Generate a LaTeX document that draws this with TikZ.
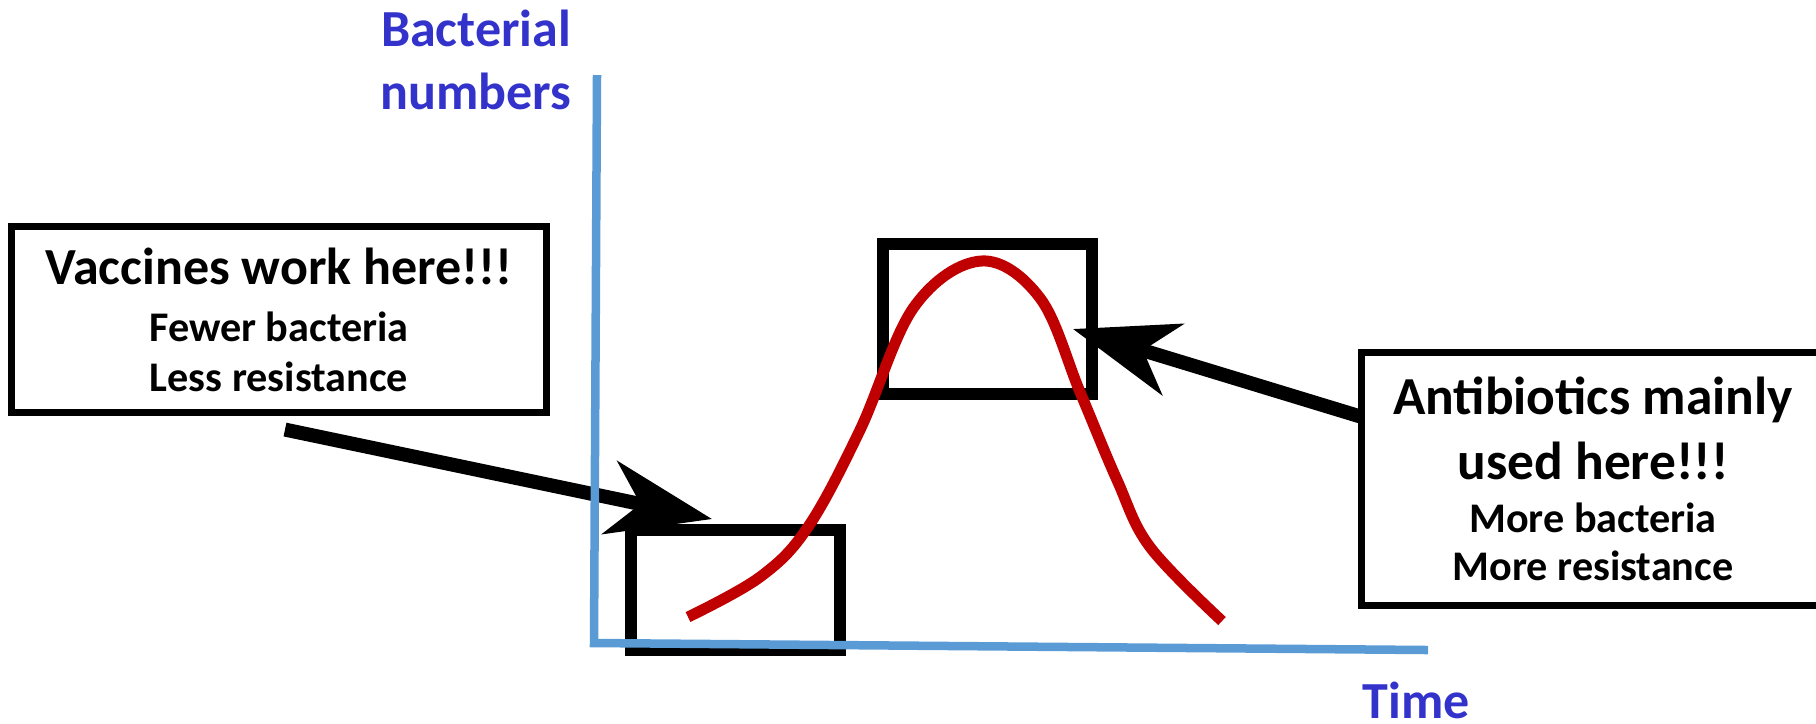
\documentclass[tikz,border=0pt]{standalone}
\usepackage{fontspec}
\setmainfont{Carlito}
\usepackage{tikz}
\usetikzlibrary{arrows.meta,calc,positioning}
\definecolor{axisblue}{HTML}{5B9BD5}
\definecolor{labelblue}{HTML}{3333CC}
\definecolor{curvered}{HTML}{C00000}
\tikzset{
  axis/.style={draw=axisblue,line width=.085cm},
  bellcurve/.style={draw=curvered,line width=.11cm},
  zone/.style={draw=black,line width=.12cm,inner sep=0pt,outer sep=0pt},
  notebox/.style={draw=black,line width=.07cm,inner sep=0pt,outer sep=0pt,align=center,
    font=\bfseries\fontsize{12pt}{14.2pt}\selectfont},
  pointer/.style={-{Stealth[length=1.04cm,width=.74cm,inset=.31cm]},draw=black,line width=.14cm},
  axislabel/.style={text=labelblue,inner sep=0pt,align=center,
    font=\bfseries\fontsize{14.8pt}{17.9pt}\selectfont}
}
\newcommand\headline[2][15.2pt]{{\fontsize{#1}{#1}\selectfont #2}}

\begin{document}
\begin{tikzpicture}[x=.01cm,y=-.01cm]
  \useasboundingbox (0,0) rectangle (1816,723);
  % callouts
  \node[notebox,minimum width=5.35cm,minimum height=1.86cm] (vacc) at (279,319.5)
    {\headline[14.8pt]{Vaccines work here!!!}\\[2pt]Fewer bacteria\\Less resistance};
  \node[notebox,minimum width=4.62cm,minimum height=2.52cm,
    font=\bfseries\fontsize{12pt}{13.7pt}\selectfont] (anti) at (1593,479)
    {\headline{Antibiotics mainly}\\[4.8pt]\headline{used here!!!}\\[1.4pt]More bacteria\\More resistance};
  % zones on the curve
  \node[zone,minimum width=2.09cm,minimum height=1.2cm] (low) at (735.5,590) {};
  \node[zone,minimum width=2.09cm,minimum height=1.5cm] (high) at (987.5,319) {};
  % arrows
  \coordinate (vtail) at ($(vacc.south)+(6,17)$);
  \coordinate (vtip) at (712,519);
  \coordinate (atail) at ($(anti.north west)!.254!(anti.south west)$);
  \coordinate (atip) at (1073,329);
  \draw[pointer] (vtail) -- (vtip);
  \draw[pointer] (atail) -- (atip);
  % axes
  \draw[axis] (597,75) -- (594,643) -- (1428,650);
  \node[axislabel] (ylab) at (476,60) {Bacterial\\numbers};
  \node[axislabel,anchor=base] (xlab) at (1416,718) {Time};
  \draw[bellcurve] plot[smooth,tension=.6] coordinates {(688,617) (760,577) (808,527) (860,430)
    (914,307) (981,261) (1040,298) (1080,392) (1117,480) (1150,547) (1222,621)};
\end{tikzpicture}
\end{document}
